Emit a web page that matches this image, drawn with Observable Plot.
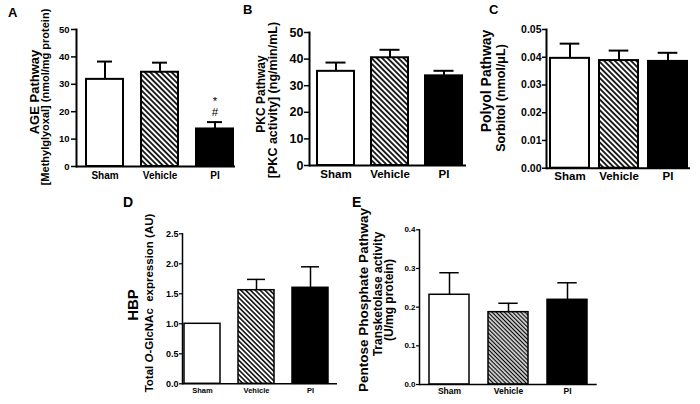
<!DOCTYPE html>
<html>
<head>
<meta charset="utf-8">
<script src="https://cdn.jsdelivr.net/npm/d3@7"></script>
<script src="https://cdn.jsdelivr.net/npm/@observablehq/plot@0.6"></script>
<style>
  html, body { margin: 0; padding: 0; background: white; }
  #root { position: relative; width: 700px; height: 404px; background: white; overflow: hidden;
          font-family: "Liberation Sans", Arial, Helvetica, sans-serif; }
  .lab { position: absolute; white-space: nowrap; line-height: 1; font-weight: bold; color: black; }
  .v { transform: translate(-50%, -50%) rotate(-90deg); }
</style>
</head>
<body>
<div id="root"></div>
<script>
// ---------------- data ----------------
const groups = ["Sham", "Vehicle", "PI"];

const ageMean = [31.8, 34.4, 13.7];
const ageErr = [6.5, 3.5, 2.5];
const ageTicks = [0, 10, 20, 30, 40, 50];
const ageSignif = "*\n#";          // above PI bar

const pkcMean = [35.4, 40.5, 33.7];
const pkcErr = [3.3, 3.0, 1.9];
const pkcTicks = [0, 10, 20, 30, 40, 50];

const polyolMean = [0.0396, 0.0388, 0.0385];
const polyolErr = [0.0053, 0.0036, 0.0031];
const polyolTicks = [0, 0.01, 0.02, 0.03, 0.04, 0.05];

const hbpMean = [1.0, 1.56, 1.60];
const hbpErr = [0, 0.18, 0.35];
const hbpTicks = [0, 0.5, 1.0, 1.5, 2.0, 2.5];

const pppMean = [0.232, 0.187, 0.219];
const pppErr = [0.057, 0.023, 0.044];
const pppTicks = [0, 0.1, 0.2, 0.3, 0.4];

// ---------------- drawing ----------------
const root = document.getElementById("root");
const FONT = '"Liberation Sans", Arial, Helvetica, sans-serif';

function fillFor(group, id) {
  return group === "Sham" ? "white" : group === "Vehicle" ? `url(#${id})` : "black";
}

function drawPanel(cfg) {
  const rows = groups.map((g, i) => ({group: g, mean: cfg.mean[i], err: cfg.err[i]}));
  const withErr = rows.filter(d => d.err > 0);
  const [r0, r1] = cfg.xRange;
  const step = (r1 - r0) / (groups.length - cfg.padIn);
  const bw = step * (1 - cfg.padIn);
  const inset = (bw - cfg.capW) / 2;
  const extra = cfg.extra ? cfg.extra(rows) : [];
  const svg = Plot.plot({
    width: cfg.width, height: cfg.height,
    marginLeft: cfg.mL, marginRight: cfg.mR, marginTop: cfg.mT, marginBottom: cfg.mB,
    x: {domain: groups, range: cfg.xRange, paddingInner: cfg.padIn, paddingOuter: 0},
    y: {domain: cfg.yDomain},
    color: {type: "identity"},
    style: {fontFamily: FONT, fontWeight: "bold", background: "transparent", overflow: "visible", color: "black"},
    marks: [
      Plot.barY(rows, {x: "group", y: "mean", fill: d => fillFor(d.group, cfg.id), stroke: "black", strokeWidth: cfg.sw}),
      Plot.ruleX(withErr, {x: "group", y1: "mean", y2: d => d.mean + d.err, stroke: "black", strokeWidth: cfg.sw}),
      Plot.tickY(withErr, {x: "group", y: d => d.mean + d.err, stroke: "black", strokeWidth: cfg.sw, insetLeft: inset, insetRight: inset}),
      Plot.ruleY([cfg.yDomain[0]], {stroke: "black", strokeWidth: cfg.axisW}),
      Plot.frame({anchor: "left", stroke: "black", strokeWidth: cfg.axisW}),
      Plot.axisY({ticks: cfg.ticks, tickFormat: cfg.fmt, tickSize: cfg.tickSize, tickPadding: cfg.tickPad,
                  fontSize: cfg.tickFont, label: null, strokeWidth: cfg.tickW}),
      Plot.axisX({tickSize: 0, tickPadding: cfg.catPad, fontSize: cfg.catFont, label: null}),
      ...extra
    ]
  });
  // hatch pattern for the Vehicle bar
  const defs = document.createElementNS("http://www.w3.org/2000/svg", "defs");
  const s = cfg.hatch;
  defs.innerHTML = `<pattern id="${cfg.id}" patternUnits="userSpaceOnUse" width="${s}" height="${s}" patternTransform="rotate(-45)">
      <rect width="${s}" height="${s}" fill="white"></rect>
      <line x1="${s / 2}" y1="0" x2="${s / 2}" y2="${s}" stroke="black" stroke-width="${cfg.hatchW}"></line>
    </pattern>`;
  svg.insertBefore(defs, svg.firstChild);
  svg.style.position = "absolute";
  svg.style.left = cfg.left + "px";
  svg.style.top = cfg.top + "px";
  root.appendChild(svg);
}

function label(html, x, y, size, vertical, extraStyle) {
  const d = document.createElement("div");
  d.className = "lab" + (vertical ? " v" : "");
  d.style.left = x + "px";
  d.style.top = y + "px";
  d.style.fontSize = size + "px";
  if (extraStyle) d.style.cssText += extraStyle;
  d.innerHTML = html;
  root.appendChild(d);
}

// Panel A
drawPanel({
  id: "hatchA", left: 0, top: 0, width: 240, height: 190,
  mL: 76, mR: 5, mT: 29, mB: 24, xRange: [85, 233], padIn: 0.333,
  yDomain: [0, 50], ticks: ageTicks, fmt: d3.format("d"),
  mean: ageMean, err: ageErr, sw: 2, axisW: 2, tickW: 1.5, capW: 15,
  tickSize: 5, tickPad: 2, tickFont: 9.5, catFont: 10, catPad: 5, hatch: 3.8, hatchW: 1.7,
  extra: rows => {
    const pi = rows.filter(d => d.group === "PI");
    return [
      Plot.text(pi, {x: "group", y: d => d.mean + d.err, text: () => ageSignif, lineAnchor: "bottom",
                     lineHeight: 1.0, dy: -6, fontSize: 11.5, fontWeight: "normal"})
    ];
  }
});

// Panel B
drawPanel({
  id: "hatchB", left: 230, top: 0, width: 240, height: 190,
  mL: 79, mR: 4, mT: 32, mB: 25, xRange: [86, 232], padIn: 0.321,
  yDomain: [0, 50], ticks: pkcTicks, fmt: d3.format("d"),
  mean: pkcMean, err: pkcErr, sw: 2, axisW: 2, tickW: 1.5, capW: 20,
  tickSize: 5, tickPad: 1, tickFont: 12.5, catFont: 11.5, catPad: 4, hatch: 3.8, hatchW: 1.7
});

// Panel C
drawPanel({
  id: "hatchC", left: 460, top: 0, width: 240, height: 190,
  mL: 86, mR: 10, mT: 29, mB: 22.3, xRange: [89, 228], padIn: 0.21,
  yDomain: [0, 0.05], ticks: polyolTicks, fmt: d3.format(".2f"),
  mean: polyolMean, err: polyolErr, sw: 2, axisW: 2, tickW: 1.5, capW: 20,
  tickSize: 4, tickPad: 1, tickFont: 10.5, catFont: 11.5, catPad: 4, hatch: 3.8, hatchW: 1.7
});

// Panel D
drawPanel({
  id: "hatchD", left: 100, top: 195, width: 250, height: 209,
  mL: 82, mR: 13, mT: 38.3, mB: 20.7, xRange: [83, 230], padIn: 0.327,
  yDomain: [0, 2.5], ticks: hbpTicks, fmt: d3.format(".1f"),
  mean: hbpMean, err: hbpErr, sw: 1.5, axisW: 1.5, tickW: 1.2, capW: 19,
  tickSize: 3, tickPad: 1, tickFont: 9, catFont: 7.5, catPad: 4, hatch: 3.4, hatchW: 1.5
});

// Panel E
drawPanel({
  id: "hatchE", left: 340, top: 195, width: 270, height: 209,
  mL: 79, mR: 13.3, mT: 34.3, mB: 20, xRange: [89, 246.7], padIn: 0.33,
  yDomain: [0, 0.4], ticks: pppTicks, fmt: d3.format(".1f"),
  mean: pppMean, err: pppErr, sw: 1.5, axisW: 1.5, tickW: 1.2, capW: 19,
  tickSize: 3, tickPad: 1, tickFont: 8, catFont: 8.5, catPad: 3, hatch: 2.9, hatchW: 1.4
});

// Panel letters
label("A", 8, 6, 13);
label("B", 243, 3, 13);
label("C", 489, 3, 13);
label("D", 123, 195, 14);
label("E", 352, 195, 14);

// Y-axis titles
label("AGE Pathway", 33.5, 92, 13, true);
label("[Methylglyoxal] (nmol/mg protein)", 44.5, 97, 11, true);
label("PKC Pathway", 261, 94, 12, true);
label("[PKC activity] (ng/min/mL)", 273, 100, 12.5, true);
label("Polyol Pathway", 486, 81, 14, true);
label("Sorbitol (nmol/&mu;L)", 501, 98, 12.5, true);
label("HBP", 132, 305, 15, true);
label("Total <i>O</i>-GlcNAc&nbsp; expression (AU)", 149.5, 303, 11.5, true);
label("Pentose Phosphate Pathway", 363.5, 300, 13.5, true);
label("Transketolase activity", 377.5, 294, 12, true);
label("(U/mg protein)", 388.5, 300, 12, true);
</script>
</body>
</html>
